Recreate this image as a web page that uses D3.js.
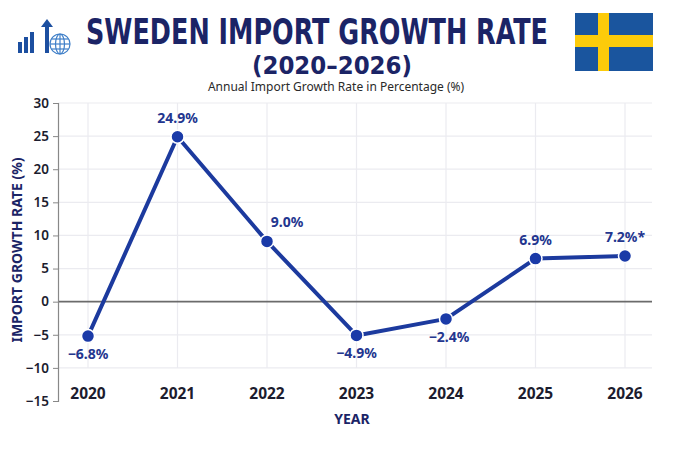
<!DOCTYPE html>
<html>
<head>
<meta charset="utf-8">
<script src="https://cdn.jsdelivr.net/npm/d3@7"></script>
<style>
  body { margin: 0; background: #fff; }
  text { font-family: "Noto Sans", "Open Sans", sans-serif; }
</style>
</head>
<body>
<div id="container"></div>
<script>
/* DATA */
const years = ["2020", "2021", "2022", "2023", "2024", "2025", "2026"];
const growth = [-5.2, 24.9, 9.1, -5.1, -2.6, 6.5, 6.9];
const pointLabels = ["-6.8%", "24.9%", "9.0%", "-4.9%", "-2.4%", "6.9%", "7.2%*"];
const labelSide = ["below", "above", "right", "below", "below", "above", "above"];
const yTicks = [30, 25, 20, 15, 10, 5, 0, -5, -10, -15];

/* CONSTANTS */
const width = 700, height = 450,
  margin = { top: 103, bottom: 49, left: 58, right: 48 };
const navy = "#1b2466", blue = "#1c3a9e";

const svg = d3.select("#container").append("svg")
  .attr("width", width)
  .attr("height", height);

/* SCALES */
const xScale = d3.scalePoint()
  .domain(years)
  .range([88, 625]);

const yScale = d3.scaleLinear()
  .domain([-15, 30])
  .range([height - margin.bottom, margin.top]);

// grid
svg.append("g")
  .selectAll("line.h")
  .data(yTicks.filter(d => d > -15 && d !== 0))
  .join("line")
  .attr("x1", margin.left).attr("x2", width - margin.right)
  .attr("y1", d => yScale(d)).attr("y2", d => yScale(d))
  .attr("stroke", "#ebebf0").attr("stroke-width", 1.2);

svg.append("g")
  .selectAll("line.v")
  .data(years)
  .join("line")
  .attr("x1", d => xScale(d)).attr("x2", d => xScale(d))
  .attr("y1", yScale(30)).attr("y2", yScale(-10))
  .attr("stroke", "#ebebf0").attr("stroke-width", 1.2);

// zero line
svg.append("line")
  .attr("x1", margin.left).attr("x2", width - margin.right)
  .attr("y1", yScale(0)).attr("y2", yScale(0))
  .attr("stroke", "#6b6b6b").attr("stroke-width", 1.6);

// y axis
const yAxis = d3.axisLeft(yScale).tickValues(yTicks).tickSize(5).tickPadding(4);
const gy = svg.append("g")
  .attr("transform", `translate(${margin.left},0)`)
  .call(yAxis);
gy.select(".domain").attr("stroke", "#888").attr("stroke-width", 1.2);
gy.selectAll(".tick line").attr("stroke", "#888");
gy.selectAll(".tick text")
  .attr("fill", "#1c1c2e")
  .style("font-size", "13.5px")
  .style("font-weight", "600")
  .style("font-family", "'Noto Sans', sans-serif")
  .text(d => d < 0 ? "\u2212" + Math.abs(d) : d);

// x axis labels
svg.append("g")
  .selectAll("text")
  .data(years)
  .join("text")
  .attr("x", d => xScale(d))
  .attr("y", 399)
  .attr("text-anchor", "middle")
  .attr("fill", "#1c1c2e")
  .style("font-size", "15.5px")
  .style("font-weight", "700")
  .text(d => d);

// axis titles
svg.append("text")
  .attr("x", 352).attr("y", 424)
  .attr("text-anchor", "middle")
  .attr("fill", navy)
  .style("font-size", "14px").style("font-weight", "700")
  .text("YEAR");

svg.append("text")
  .attr("transform", "translate(22,250) rotate(-90)")
  .attr("text-anchor", "middle")
  .attr("fill", navy)
  .style("font-size", "14px").style("font-weight", "700")
  .text("IMPORT GROWTH RATE (%)");

// line
const line = d3.line()
  .x((d, i) => xScale(years[i]))
  .y(d => yScale(d));

svg.append("path")
  .datum(growth)
  .attr("d", line)
  .attr("fill", "none")
  .attr("stroke", blue)
  .attr("stroke-width", 4)
  .attr("stroke-linejoin", "round");

// points
svg.append("g")
  .selectAll("circle")
  .data(growth)
  .join("circle")
  .attr("cx", (d, i) => xScale(years[i]))
  .attr("cy", d => yScale(d))
  .attr("r", 6.5)
  .attr("fill", "#1a3aa8")
  .attr("stroke", "#fff")
  .attr("stroke-width", 1.5);

// point labels
svg.append("g")
  .selectAll("text")
  .data(growth)
  .join("text")
  .attr("x", (d, i) => xScale(years[i]) + (labelSide[i] === "right" ? 20 : (labelSide[i] === "below" && i === 4 ? 3 : 0)))
  .attr("y", (d, i) => {
    const s = labelSide[i];
    if (s === "above") return yScale(d) - 14;
    if (s === "right") return yScale(d) - 14;
    return yScale(d) + 23;
  })
  .attr("text-anchor", "middle")
  .attr("fill", "#23368f")
  .style("font-size", "14px")
  .style("font-weight", "700")
  .text((d, i) => pointLabels[i].replace("-", "\u2212"));

// header
svg.append("text")
  .attr("x", 317).attr("y", 44)
  .attr("text-anchor", "middle")
  .attr("fill", navy)
  .attr("textLength", 462)
  .attr("lengthAdjust", "spacingAndGlyphs")
  .style("font-family", "'DejaVu Sans Condensed', 'DejaVu Sans', sans-serif")
  .style("font-size", "36px")
  .style("font-weight", "900")
  .text("SWEDEN IMPORT GROWTH RATE");

svg.append("text")
  .attr("x", 332).attr("y", 74)
  .attr("text-anchor", "middle")
  .attr("fill", navy)
  .attr("textLength", 160)
  .attr("lengthAdjust", "spacingAndGlyphs")
  .style("font-family", "'DejaVu Sans Condensed', 'DejaVu Sans', sans-serif")
  .style("font-size", "24px")
  .style("font-weight", "700")
  .text("(2020\u20132026)");

svg.append("text")
  .attr("x", 336).attr("y", 91)
  .attr("text-anchor", "middle")
  .attr("fill", "#2a2a2a")
  .style("font-size", "12px")
  .text("Annual Import Growth Rate in Percentage (%)");

// logo
const logo = svg.append("g").attr("fill", "#1c4fa0");
const logoBars = [[18, 42, 4, 11], [24, 37, 4, 16], [30, 32, 4, 21], [45, 26, 4, 27]];
logo.selectAll("rect").data(logoBars).join("rect")
  .attr("x", d => d[0]).attr("y", d => d[1]).attr("width", d => d[2]).attr("height", d => d[3]);
logo.append("path").attr("d", "M41,27 L47,19 L53,27 Z");
const globe = svg.append("g").attr("fill", "none").attr("stroke", "#3f7fc8").attr("stroke-width", 1.2);
globe.append("circle").attr("cx", 60).attr("cy", 44).attr("r", 10).attr("fill", "#fff");
globe.append("ellipse").attr("cx", 60).attr("cy", 44).attr("rx", 4.5).attr("ry", 10);
globe.append("line").attr("x1", 60).attr("x2", 60).attr("y1", 34).attr("y2", 54);
globe.append("line").attr("x1", 50).attr("x2", 70).attr("y1", 44).attr("y2", 44);
globe.append("line").attr("x1", 51.5).attr("x2", 68.5).attr("y1", 39).attr("y2", 39);
globe.append("line").attr("x1", 51.5).attr("x2", 68.5).attr("y1", 49).attr("y2", 49);

// flag
const flag = svg.append("g");
flag.append("rect").attr("x", 575).attr("y", 13).attr("width", 78).attr("height", 58).attr("fill", "#1a559e");
flag.append("rect").attr("x", 598).attr("y", 13).attr("width", 11).attr("height", 58).attr("fill", "#fccb0a");
flag.append("rect").attr("x", 575).attr("y", 35).attr("width", 78).attr("height", 12).attr("fill", "#fccb0a");
</script>
</body>
</html>
